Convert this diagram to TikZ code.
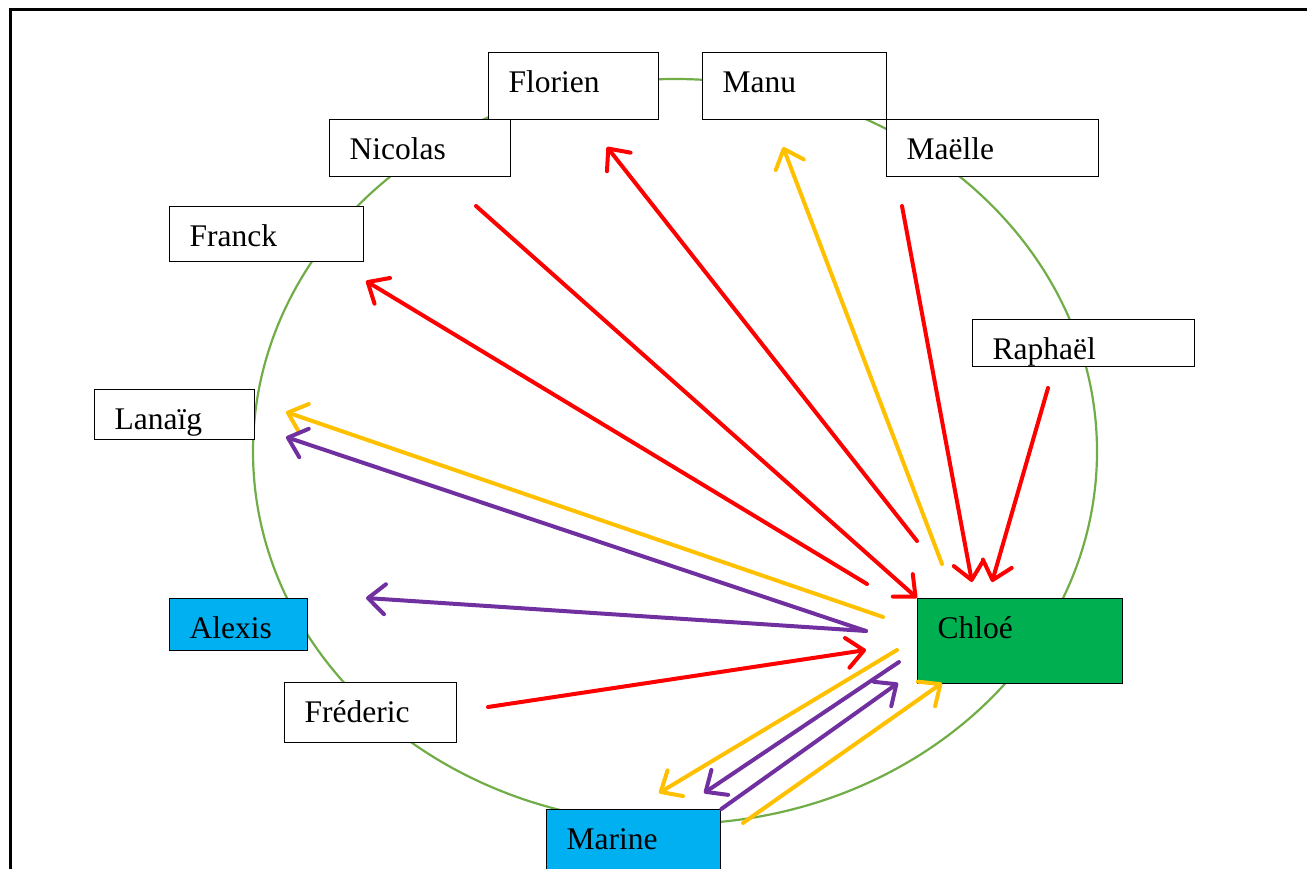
\documentclass[tikz,border=0pt]{standalone}
\usepackage{fontspec}
\setmainfont{Liberation Serif}
\usetikzlibrary{arrows.meta}

\definecolor{rouge}{RGB}{255,0,0}
\definecolor{jaune}{RGB}{255,192,0}
\definecolor{violet}{RGB}{112,48,160}
\definecolor{vertchloe}{RGB}{0,176,80}
\definecolor{bleu}{RGB}{0,176,240}
\definecolor{vertcercle}{RGB}{112,173,71}

\tikzset{every picture/.style={line width=1pt}}
\tikzset{
  nom/.style={draw, line width=1.3pt, fill=white, anchor=north west, align=left, inner xsep=20pt, inner ysep=0pt,
    text height=40pt, font=\fontsize{31.5}{36}\selectfont},
  fleche/.style={line width=4pt, line cap=round, line join=round,
    -{Straight Barb[length=17pt,width=30pt,line cap=round,line join=round]}}
}

\begin{document}
\begin{tikzpicture}[x=1pt,y=1pt,yscale=-1]
        \useasboundingbox (0,0) rectangle (1307,869);

        %Frame
        \draw [line width=3pt] (1330,10) -- (10,10) -- (10,890);

        %Shape: Ellipse
        \draw [color=vertcercle][line width=2.2pt] (675,451.5) ellipse [x radius=422, y radius=372.5];

        %Text Nodes
        \node [nom, text width=130pt, text depth=27pt] (florien) at (488,52) {Florien};
        \node [nom, text width=144pt, text depth=27pt] (manu) at (702,52) {Manu};
        \node [nom, text width=141pt, text depth=17pt] (nicolas) at (329,119) {Nicolas};
        \node [nom, text width=172pt, text depth=17pt] (maelle) at (886,119) {Maëlle};
        \node [nom, text width=154pt, text depth=15pt] (franck) at (169,206) {Franck};
        \node [nom, text width=182pt, text depth=7pt] (raphael) at (972,319) {Raphaël};
        \node [nom, text width=120pt, text depth=10pt] (lanaig) at (94,389) {Lanaïg};
        \node [nom, fill=bleu, text width=98pt, text depth=12pt] (alexis) at (169,598) {Alexis};
        \node [nom, text width=132pt, text depth=20pt] (frederic) at (284,682) {Fréderic};
        \node [nom, fill=vertchloe, text width=165pt, text depth=45pt] (chloe) at (917,598) {Chloé};
        \node [nom, fill=bleu, text width=134pt, text depth=27pt] (marine) at (546,809) {Marine};

        %Free ends of the arrows
        \coordinate (p-nicolas) at (476,206);
        \coordinate (c-florien) at (917,541);
        \coordinate (p-florien) at (607,147);
        \coordinate (c-franck) at (867,584);
        \coordinate (p-franck) at (366,281);
        \coordinate (c-manu) at (942,564);
        \coordinate (p-manu) at (783,147);
        \coordinate (p-maelle) at (902,206);
        \coordinate (c-maelle) at (972,582);
        \coordinate (p-raphael) at (1048,388);
        \coordinate (c-raphael) at (992,582);
        \coordinate (c-lanaig1) at (883,617);
        \coordinate (p-lanaig1) at (286,412);
        \coordinate (c-lanaig2) at (866,631);
        \coordinate (p-lanaig2) at (286,437);
        \coordinate (p-alexis) at (366,598);
        \coordinate (p-frederic) at (488,707);
        \coordinate (c-frederic) at (866,650);
        \coordinate (c-marine1) at (897,650);
        \coordinate (p-marine1) at (659,793);
        \coordinate (c-marine2) at (899,662);
        \coordinate (p-marine2) at (704,793);
        \coordinate (c-marine3) at (898,683);
        \coordinate (p-marine4) at (743,823);
        \coordinate (c-marine4) at (942,683);

        %Arrows: red
        \draw [fleche, color=rouge] (p-nicolas) -- (chloe.north west);
        \draw [fleche, color=rouge] (c-florien) -- (p-florien);
        \draw [fleche, color=rouge] (c-franck) -- (p-franck);
        \draw [fleche, color=rouge] (p-maelle) -- (c-maelle);
        \draw [fleche, color=rouge] (p-raphael) -- (c-raphael);
        \draw [fleche, color=rouge] (p-frederic) -- (c-frederic);
        %Arrows: yellow
        \draw [fleche, color=jaune] (c-manu) -- (p-manu);
        \draw [fleche, color=jaune] (c-lanaig1) -- (p-lanaig1);
        \draw [fleche, color=jaune] (c-marine1) -- (p-marine1);
        \draw [fleche, color=jaune] (p-marine4) -- (c-marine4);
        %Arrows: purple
        \draw [fleche, color=violet] (c-lanaig2) -- (p-lanaig2);
        \draw [fleche, color=violet] (c-lanaig2) -- (p-alexis);
        \draw [fleche, color=violet] (c-marine2) -- (p-marine2);
        \draw [fleche, color=violet] (marine.north east) -- (c-marine3);

        \end{tikzpicture}
\end{document}
